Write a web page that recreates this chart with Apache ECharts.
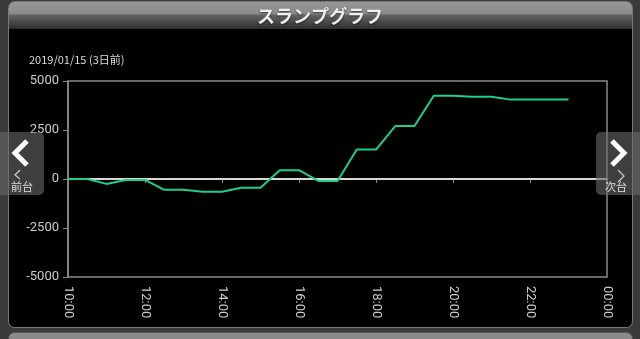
<!DOCTYPE html>
<html>
<head>
<meta charset="utf-8">
<script src="https://cdn.jsdelivr.net/npm/echarts@6/dist/echarts.min.js"></script>
<style>
html,body{margin:0;padding:0;background:#3a3a3a;}
#chart{width:640px;height:339px;}
</style>
</head>
<body>
<div id="chart"></div>
<script>
// Data
const times = ["10:00","10:30","11:00","11:30","12:00","12:30","13:00","13:30","14:00","14:30","15:00","15:30","16:00","16:30","17:00","17:30","18:00","18:30","19:00","19:30","20:00","20:30","21:00","21:30","22:00","22:30","23:00","23:30","00:00"];
const slump = [0,0,-250,-50,-50,-550,-550,-650,-650,-450,-450,450,450,-100,-100,1500,1500,2700,2700,4250,4250,4200,4200,4050,4050,4050,4050];
const yTicks = [-5000,-2500,0,2500,5000];
const titleText = "スランプグラフ";
const subTitle = "2019/01/15 (3日前)";
const prevLabel = "前台";
const nextLabel = "次台";

const chart = echarts.init(document.getElementById('chart'), null, {renderer:'canvas'});
const font = "Roboto, 'Noto Sans', sans-serif";
const cjk = "'Noto Sans CJK JP', 'Noto Sans', sans-serif";

chart.setOption({
  backgroundColor: '#3a3a3a',
  animation: false,
  graphic: [
    {type:'rect', z:-10, shape:{x:8.5,y:1.5,width:624,height:326,r:6}, style:{fill:'#000',stroke:'#7a7a7a',lineWidth:1}},
    {type:'rect', z:-9, shape:{x:9,y:2,width:623,height:27,r:[5,5,0,0]}, style:{fill:new echarts.graphic.LinearGradient(0,0,0,1,[{offset:0,color:'#969696'},{offset:0.42,color:'#8c8c8c'},{offset:0.5,color:'#626262'},{offset:1,color:'#2e2e2e'}])}},
    {type:'text', z:-8, style:{text:titleText, x:320, y:16, align:'center', verticalAlign:'middle', fill:'#eeeeee', font:"bold 18px "+cjk, textShadowColor:'rgba(0,0,0,0.6)', textShadowBlur:2, textShadowOffsetY:1}},
    {type:'rect', z:-10, shape:{x:8.5,y:332.5,width:624,height:20,r:6}, style:{fill:'#8a8a8a',stroke:'#555',lineWidth:1}},
    {type:'text', z:5, style:{text:subTitle, x:29, y:60, verticalAlign:'middle', fill:'#dddddd', font:"11px "+cjk}},
    {type:'rect', z:100, shape:{x:-6,y:132,width:50,height:63,r:5}, style:{fill:'rgba(105,105,105,0.6)'}},
    {type:'polyline', z:101, shape:{points:[[27,141],[15,153],[27,165]]}, style:{stroke:'#fff',lineWidth:5,fill:null,lineJoin:'miter',lineCap:'butt'}},
    {type:'polyline', z:101, shape:{points:[[20,170],[15,175],[20,179]]}, style:{stroke:'#ccc',lineWidth:1.2,fill:null}},
    {type:'text', z:101, style:{text:prevLabel, x:22, y:187, align:'center', verticalAlign:'middle', fill:'#dddddd', font:"11px "+cjk}},
    {type:'rect', z:100, shape:{x:596,y:132,width:50,height:63,r:5}, style:{fill:'rgba(105,105,105,0.6)'}},
    {type:'polyline', z:101, shape:{points:[[612,141],[624,153],[612,165]]}, style:{stroke:'#fff',lineWidth:5,fill:null,lineJoin:'miter',lineCap:'butt'}},
    {type:'polyline', z:101, shape:{points:[[618,170],[624,176],[618,182]]}, style:{stroke:'#ccc',lineWidth:1.2,fill:null}},
    {type:'text', z:101, style:{text:nextLabel, x:616, y:187, align:'center', verticalAlign:'middle', fill:'#dddddd', font:"11px "+cjk}}
  ],
  grid: {left:68, right:33, top:81, bottom:62, show:true, borderColor:'#8a8a8a', borderWidth:1.5, backgroundColor:'transparent'},
  xAxis: {
    type:'category', data:times, boundaryGap:false,
    axisLine:{show:true, lineStyle:{color:'#8a8a8a', width:1.5}},
    axisTick:{show:true, interval:3, length:4, lineStyle:{color:'#8a8a8a'}},
    axisLabel:{interval:3, rotate:-90, margin:9, color:'#cccccc', fontSize:13, fontFamily:font},
    splitLine:{show:false}
  },
  yAxis: {
    type:'value', min:-5000, max:5000, interval:2500,
    axisLine:{show:true, lineStyle:{color:'#8a8a8a', width:1.5}},
    axisTick:{show:true, length:5, lineStyle:{color:'#8a8a8a'}},
    axisLabel:{color:'#cccccc', fontSize:13, fontFamily:font, margin:9, formatter:v=>yTicks.includes(v)?String(v):''},
    splitLine:{show:false}
  },
  series: [{
    type:'line', data:slump, symbol:'none', smooth:false,
    lineStyle:{color:'#1ccf8a', width:2},
    z:3,
    markLine:{silent:true, symbol:'none', label:{show:false}, lineStyle:{color:'#d8d8d8', width:2, type:'solid'}, data:[{yAxis:0}], z:2}
  }]
});
</script>
</body>
</html>
